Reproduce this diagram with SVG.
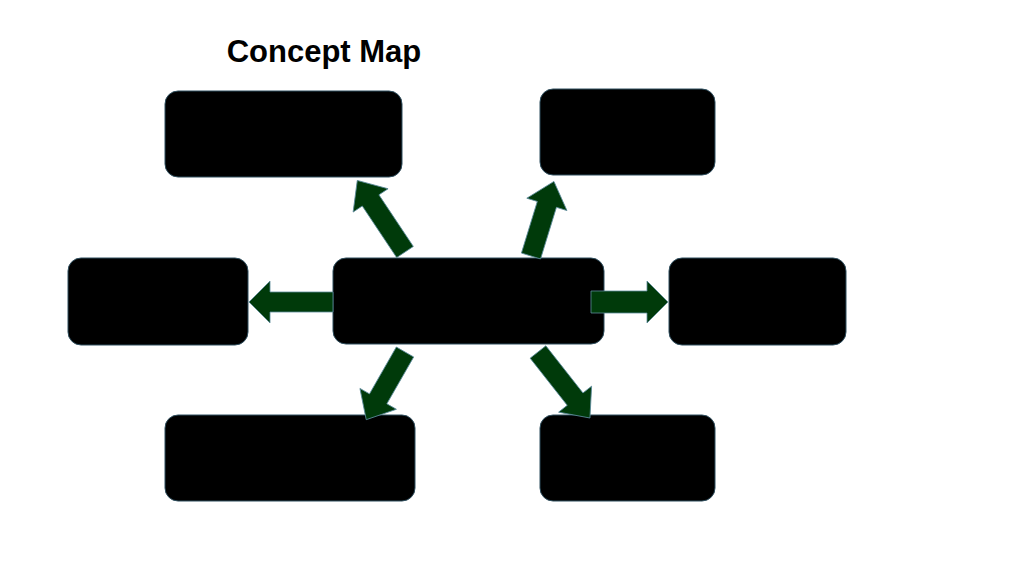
<svg xmlns="http://www.w3.org/2000/svg" width="1024" height="576" viewBox="0 0 1024 576">
<style>
.n{fill:#000;stroke:#2f4f5f;stroke-width:1}
.a{fill:#003a0a;stroke:#5a8a9a;stroke-width:0.8}
.t{font-family:"Liberation Sans",Arial,sans-serif;font-weight:bold;font-size:31px;fill:#000}
</style>
<rect width="1024" height="576" fill="#fff"/>
<text class="t" x="324" y="62" text-anchor="middle">Concept Map</text>
<g id="center"><rect class="n" x="333" y="258" width="271" height="86" rx="13"/></g>
<g id="n-tl"><rect class="n" x="165" y="91" width="237" height="86" rx="13"/></g>
<g id="n-tr"><rect class="n" x="540" y="89" width="175" height="86" rx="13"/></g>
<g id="n-l"><rect class="n" x="68" y="258" width="180" height="87" rx="13"/></g>
<g id="n-r"><rect class="n" x="669" y="258" width="177" height="87" rx="13"/></g>
<g id="n-bl"><rect class="n" x="165" y="415" width="250" height="86" rx="13"/></g>
<g id="n-br"><rect class="n" x="540" y="415" width="175" height="86" rx="13"/></g>
<g id="connectors">
<path class="a" transform="translate(405,252) rotate(-123.7)" d="M0,-10 L62,-10 L62,-21 L86,0 L62,21 L62,10 L0,10 Z"/>
<path class="a" transform="translate(531,256) rotate(-72.9)" d="M0,-10 L54,-10 L54,-21 L78,0 L54,21 L54,10 L0,10 Z"/>
<path class="a" transform="translate(405,352) rotate(119.8)" d="M0,-10 L54,-10 L54,-21 L78,0 L54,21 L54,10 L0,10 Z"/>
<path class="a" transform="translate(538,352) rotate(51.8)" d="M0,-10 L60,-10 L60,-21 L84,0 L60,21 L60,10 L0,10 Z"/>
<path class="a" transform="translate(333,302) rotate(180)" d="M0,-10 L63,-10 L63,-21 L84,0 L63,21 L63,10 L0,10 Z"/>
<path class="a" transform="translate(591,302)" d="M0,-11 L56,-11 L56,-21 L77,0 L56,21 L56,11 L0,11 Z"/>
</g>
</svg>
